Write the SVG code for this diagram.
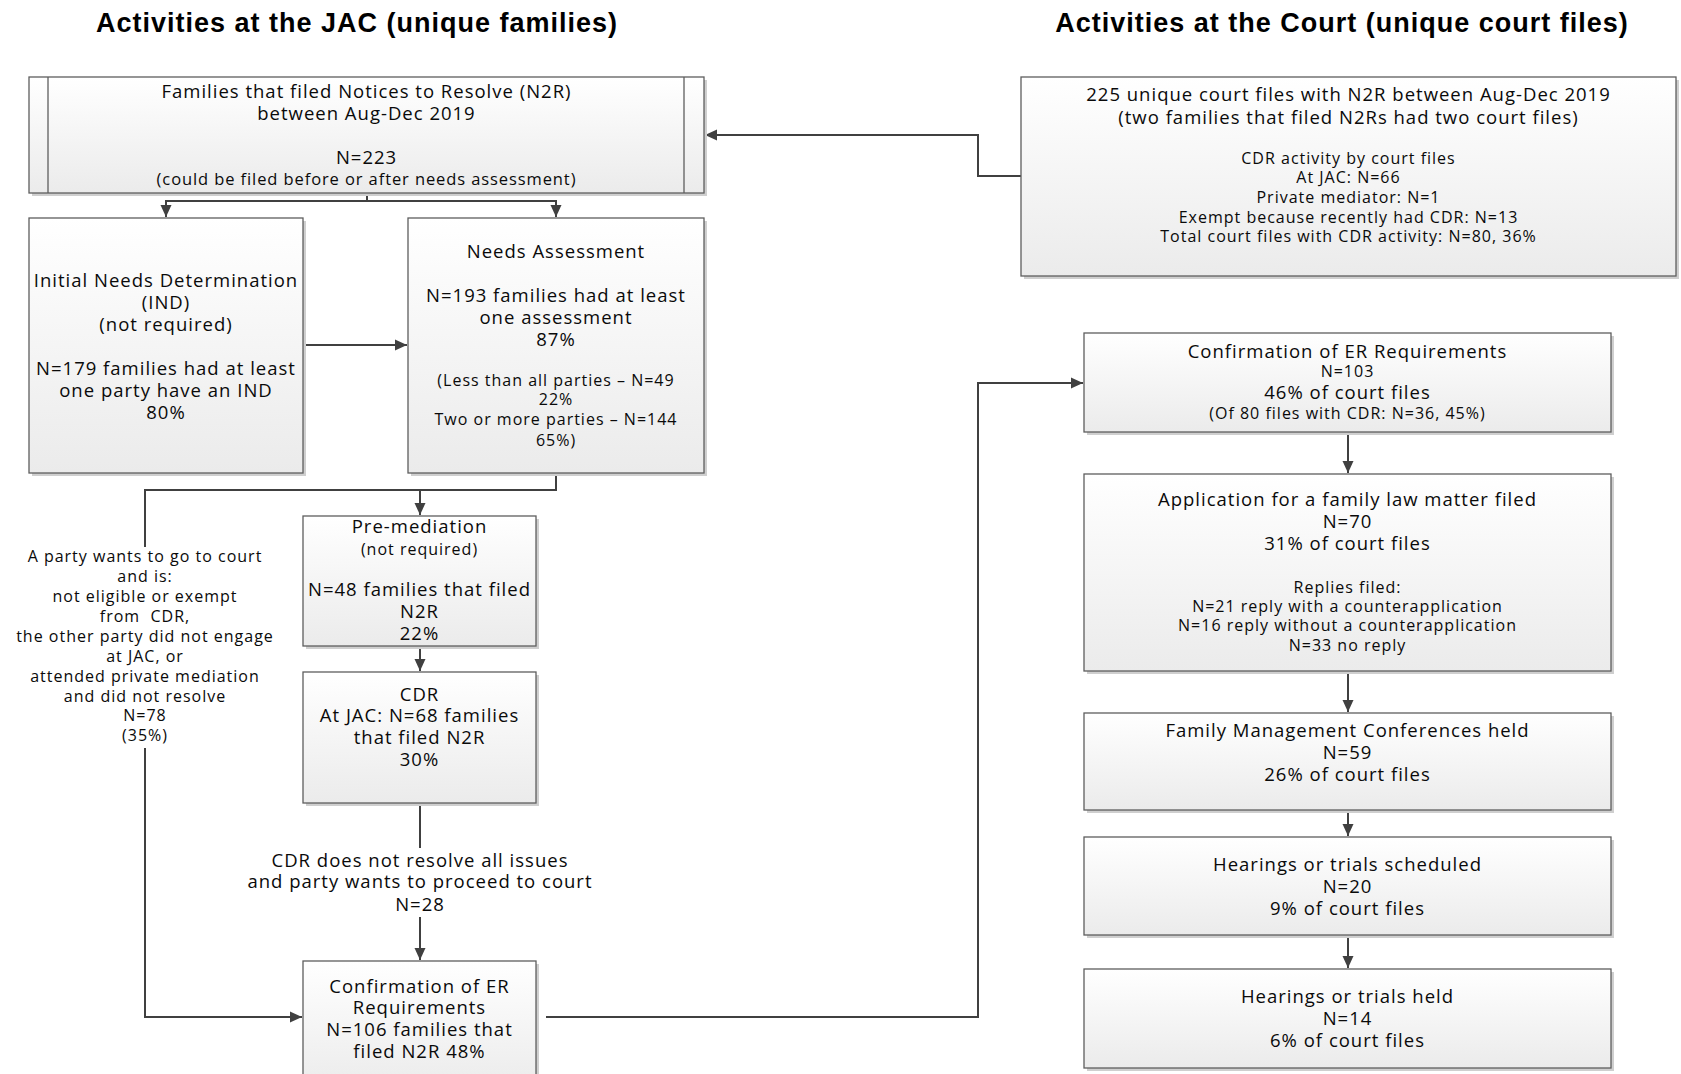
<svg xmlns="http://www.w3.org/2000/svg" width="1681" height="1074" viewBox="0 0 1681 1074">
<defs>
<linearGradient id="g" x1="0" y1="0" x2="0" y2="1">
<stop offset="0" stop-color="#ffffff"/>
<stop offset="1" stop-color="#ebebeb"/>
</linearGradient>
<marker id="ah" markerUnits="userSpaceOnUse" markerWidth="13" markerHeight="12" refX="12" refY="6" orient="auto">
<path d="M0,0.5 L12,6 L0,11.5 z" fill="#404040"/>
</marker>
<style>
.box { fill: url(#g); stroke: #5e5e5e; stroke-width: 1.3; }
.sh { fill: #cfcfcf; }
.t { font-family: "Open Sans", "Liberation Sans", sans-serif; font-size: 18.5px; letter-spacing: 1px; fill: #0a0a0a; text-anchor: middle; }
.s { font-size: 16px; }
.m { font-size: 16.5px; letter-spacing: 0.9px; }
.h { font-family: "Liberation Sans", Arial, sans-serif; font-weight: bold; font-size: 27px; letter-spacing: 1px; text-anchor: middle; fill: #000; }
.c { fill: none; stroke: #404040; stroke-width: 2; }
.ln { stroke: #5e5e5e; stroke-width: 1.3; }
</style>
</defs>
<rect width="1681" height="1074" fill="#ffffff"/>

<text class="h" x="357" y="32">Activities at the JAC (unique families)</text>
<text class="h" x="1342" y="32">Activities at the Court (unique court files)</text>

<g id="connectors">
<path class="c" d="M367 193 V201 H166 V217" marker-end="url(#ah)"/>
<path class="c" d="M367 201 H556 V217" marker-end="url(#ah)"/>
<path class="c" d="M303 345 H407" marker-end="url(#ah)"/>
<path class="c" d="M556 473 V490 H420 V515" marker-end="url(#ah)"/>
<path class="c" d="M420 490 H145 V547"/>
<path class="c" d="M145 748 V1017 H302" marker-end="url(#ah)"/>
<path class="c" d="M420 646 V671" marker-end="url(#ah)"/>
<path class="c" d="M420 803 V848"/>
<path class="c" d="M420 917 V960" marker-end="url(#ah)"/>
<path class="c" d="M546 1017 H978 V383 H1083" marker-end="url(#ah)"/>
<path class="c" d="M1021 176 H978 V135 H705" marker-end="url(#ah)"/>
<path class="c" d="M1348 432 V473" marker-end="url(#ah)"/>
<path class="c" d="M1348 671 V712" marker-end="url(#ah)"/>
<path class="c" d="M1348 810 V836" marker-end="url(#ah)"/>
<path class="c" d="M1348 935 V968" marker-end="url(#ah)"/>
</g>

<g id="n2r">
<rect class="sh" x="32" y="80" width="675" height="116"/>
<rect class="box" x="29" y="77" width="675" height="116"/>
<line class="ln" x1="48" y1="77" x2="48" y2="193"/>
<line class="ln" x1="684" y1="77" x2="684" y2="193"/>
<text class="t" x="366.5" y="98">Families that filed Notices to Resolve (N2R)</text>
<text class="t" x="366.5" y="120">between Aug-Dec 2019</text>
<text class="t" x="366.5" y="164">N=223</text>
<text class="t m" x="366.5" y="185">(could be filed before or after needs assessment)</text>
</g>

<g id="ind">
<rect class="sh" x="32" y="221" width="274" height="255"/>
<rect class="box" x="29" y="218" width="274" height="255"/>
<text class="t" x="166" y="287">Initial Needs Determination</text>
<text class="t" x="166" y="309">(IND)</text>
<text class="t" x="166" y="331">(not required)</text>
<text class="t" x="166" y="375">N=179 families had at least</text>
<text class="t" x="166" y="397">one party have an IND</text>
<text class="t" x="166" y="419">80%</text>
</g>

<g id="needs">
<rect class="sh" x="411" y="221" width="296" height="255"/>
<rect class="box" x="408" y="218" width="296" height="255"/>
<text class="t" x="556" y="258">Needs Assessment</text>
<text class="t" x="556" y="302">N=193 families had at least</text>
<text class="t" x="556" y="324">one assessment</text>
<text class="t" x="556" y="346">87%</text>
<text class="t s" x="556" y="386">(Less than all parties – N=49</text>
<text class="t s" x="556" y="405">22%</text>
<text class="t s" x="556" y="425">Two or more parties – N=144</text>
<text class="t s" x="556" y="446">65%)</text>
</g>

<g id="label-left">
<text class="t s" x="145" y="562">A party wants to go to court</text>
<text class="t s" x="145" y="582">and is:</text>
<text class="t s" x="145" y="602">not eligible or exempt</text>
<text class="t s" x="145" y="622" xml:space="preserve">from  CDR,</text>
<text class="t s" x="145" y="642">the other party did not engage</text>
<text class="t s" x="145" y="662">at JAC, or</text>
<text class="t s" x="145" y="682">attended private mediation</text>
<text class="t s" x="145" y="702">and did not resolve</text>
<text class="t s" x="145" y="721">N=78</text>
<text class="t s" x="145" y="741">(35%)</text>
</g>

<g id="premed">
<rect class="sh" x="306" y="519" width="233" height="130"/>
<rect class="box" x="303" y="516" width="233" height="130"/>
<text class="t" x="419.5" y="533">Pre-mediation</text>
<text class="t s" x="419.5" y="555">(not required)</text>
<text class="t" x="419.5" y="596">N=48 families that filed</text>
<text class="t" x="419.5" y="618">N2R</text>
<text class="t" x="419.5" y="640">22%</text>
</g>

<g id="cdr">
<rect class="sh" x="306" y="675" width="233" height="131"/>
<rect class="box" x="303" y="672" width="233" height="131"/>
<text class="t" x="419.5" y="701">CDR</text>
<text class="t" x="419.5" y="722">At JAC: N=68 families</text>
<text class="t" x="419.5" y="744">that filed N2R</text>
<text class="t" x="419.5" y="766">30%</text>
</g>

<g id="label-cdr">
<text class="t" x="420" y="867">CDR does not resolve all issues</text>
<text class="t" x="420" y="888">and party wants to proceed to court</text>
<text class="t" x="420" y="911">N=28</text>
</g>

<g id="confer-left">
<rect class="sh" x="306" y="964" width="233" height="130"/>
<rect class="box" x="303" y="961" width="233" height="130"/>
<text class="t" x="419.5" y="993">Confirmation of ER</text>
<text class="t" x="419.5" y="1014">Requirements</text>
<text class="t" x="419.5" y="1036">N=106 families that</text>
<text class="t" x="419.5" y="1058">filed N2R 48%</text>
</g>

<g id="courtfiles">
<rect class="sh" x="1024" y="80" width="655" height="199"/>
<rect class="box" x="1021" y="77" width="655" height="199"/>
<text class="t" x="1348.5" y="101">225 unique court files with N2R between Aug-Dec 2019</text>
<text class="t" x="1348.5" y="124">(two families that filed N2Rs had two court files)</text>
<text class="t s" x="1348.5" y="164">CDR activity by court files</text>
<text class="t s" x="1348.5" y="183">At JAC: N=66</text>
<text class="t s" x="1348.5" y="203">Private mediator: N=1</text>
<text class="t s" x="1348.5" y="223">Exempt because recently had CDR: N=13</text>
<text class="t s" x="1348.5" y="242">Total court files with CDR activity: N=80, 36%</text>
</g>

<g id="confer-right">
<rect class="sh" x="1087" y="336" width="527" height="99"/>
<rect class="box" x="1084" y="333" width="527" height="99"/>
<text class="t" x="1347.5" y="358">Confirmation of ER Requirements</text>
<text class="t s" x="1347.5" y="377">N=103</text>
<text class="t" x="1347.5" y="399">46% of court files</text>
<text class="t s" x="1347.5" y="419">(Of 80 files with CDR: N=36, 45%)</text>
</g>

<g id="application">
<rect class="sh" x="1087" y="477" width="527" height="197"/>
<rect class="box" x="1084" y="474" width="527" height="197"/>
<text class="t" x="1347.5" y="506">Application for a family law matter filed</text>
<text class="t" x="1347.5" y="528">N=70</text>
<text class="t" x="1347.5" y="550">31% of court files</text>
<text class="t s" x="1347.5" y="593">Replies filed:</text>
<text class="t s" x="1347.5" y="612">N=21 reply with a counterapplication</text>
<text class="t s" x="1347.5" y="631">N=16 reply without a counterapplication</text>
<text class="t s" x="1347.5" y="651">N=33 no reply</text>
</g>

<g id="fmc">
<rect class="sh" x="1087" y="716" width="527" height="97"/>
<rect class="box" x="1084" y="713" width="527" height="97"/>
<text class="t" x="1347.5" y="737">Family Management Conferences held</text>
<text class="t" x="1347.5" y="759">N=59</text>
<text class="t" x="1347.5" y="781">26% of court files</text>
</g>

<g id="hearings-scheduled">
<rect class="sh" x="1087" y="840" width="527" height="98"/>
<rect class="box" x="1084" y="837" width="527" height="98"/>
<text class="t" x="1347.5" y="871">Hearings or trials scheduled</text>
<text class="t" x="1347.5" y="893">N=20</text>
<text class="t" x="1347.5" y="915">9% of court files</text>
</g>

<g id="hearings-held">
<rect class="sh" x="1087" y="972" width="527" height="99"/>
<rect class="box" x="1084" y="969" width="527" height="99"/>
<text class="t" x="1347.5" y="1003">Hearings or trials held</text>
<text class="t" x="1347.5" y="1025">N=14</text>
<text class="t" x="1347.5" y="1047">6% of court files</text>
</g>
</svg>
